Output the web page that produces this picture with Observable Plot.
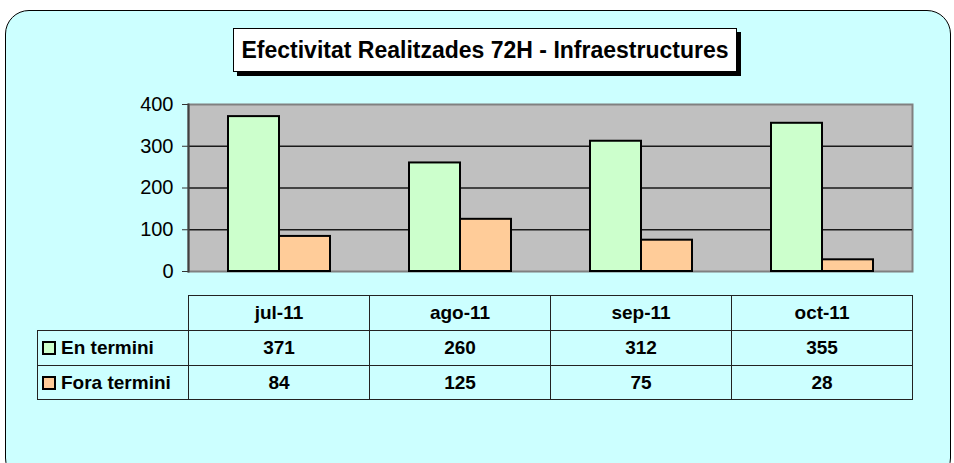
<!DOCTYPE html>
<html><head><meta charset="utf-8">
<script src="https://cdn.jsdelivr.net/npm/d3@7"></script>
<script src="https://cdn.jsdelivr.net/npm/@observablehq/plot@0.6"></script>
<style>
body{margin:0;background:#fff;font-family:Arial,"Liberation Sans",sans-serif;}
#wrap{position:relative;width:954px;height:463px;overflow:hidden;}
#panel{position:absolute;left:5px;top:10px;width:944px;height:470px;border:1.5px solid #000;border-radius:24px;background:#ccffff;}
#title{position:absolute;left:233px;top:28px;width:502px;height:42px;border:1px solid #000;background:#fff;box-shadow:4px 4px 0 #000;font-weight:bold;font-size:23px;display:flex;align-items:center;justify-content:center;white-space:nowrap;}
#chart{position:absolute;left:0;top:0;}
.cell{position:absolute;box-sizing:border-box;font-weight:bold;font-size:19px;display:flex;align-items:center;justify-content:center;color:#000;}
.b{border:1px solid #222;}
.leg{justify-content:flex-start;padding-left:4px;}
.key{display:inline-block;width:10px;height:10px;border:2px solid #000;margin-right:5px;}
</style></head>
<body><div id="wrap"><div id="panel"></div><div id="chart"></div><div id="title"></div></div>
<script>
const titleText = "Efectivitat Realitzades 72H - Infraestructures";
const months = ["jul-11","ago-11","sep-11","oct-11"];
const series = ["En termini","Fora termini"];
const enTermini = [371,260,312,355];
const foraTermini = [84,125,75,28];
const yTicks = [0,100,200,300,400];
const colors = ["#ccffcc","#ffcc99"];

const values = [enTermini, foraTermini];
const data = [];
series.forEach((s,i)=>months.forEach((m,j)=>data.push({series:s, month:m, value:values[i][j]})));

document.getElementById("title").textContent = titleText;

const chart = Plot.plot({
  width:954, height:463,
  marginLeft:188, marginRight:42, marginTop:104, marginBottom:192,
  x:{domain:months, padding:0, axis:null},
  y:{domain:[0,400], axis:null},
  style:{background:"transparent", fontFamily:'Arial,"Liberation Sans",sans-serif', fontSize:"20px", color:"#000"},
  marks:[
    Plot.frame({fill:"#c0c0c0", stroke:"#808080", strokeWidth:2}),
    Plot.gridY(yTicks.filter(t=>t>0 && t<400), {stroke:"#1a1a1a", strokeOpacity:1, strokeWidth:1.3}),
    Plot.barY(data.filter(d=>d.series===series[0]), {x:"month", y:"value", fill:colors[0], stroke:"#000", strokeWidth:2, insetLeft:40, insetRight:90}),
    Plot.barY(data.filter(d=>d.series===series[1]), {x:"month", y:"value", fill:colors[1], stroke:"#000", strokeWidth:2, insetLeft:91, insetRight:39}),
    Plot.axisY({ticks:yTicks, tickSize:6, tickPadding:9, fontSize:20, stroke:"#333", fill:"#000", label:null}),
    Plot.frame({anchor:"left", stroke:"#404040", strokeWidth:2})
  ]
});
document.getElementById("chart").appendChild(chart);

// Data table below the chart, aligned with the x scale
const xs = chart.scale("x");
const bw = xs.bandwidth;
const wrap = document.getElementById("wrap");
const rowTops = [295, 330, 365];
const rowH = [35, 35, 34];
function cell(x, y, w, h, html, cls){
  const d = document.createElement("div");
  d.className = "cell " + cls;
  d.style.left = x+"px"; d.style.top = y+"px"; d.style.width = (w+1)+"px"; d.style.height = (h+1)+"px";
  d.innerHTML = html;
  wrap.appendChild(d);
}
months.forEach((m,j)=>{
  const x0 = xs.apply(m);
  cell(x0, rowTops[0], bw, rowH[0], m, "b");
  values.forEach((v,i)=>cell(x0, rowTops[i+1], bw, rowH[i+1], String(v[j]), "b"));
});
const legX = 37, legW = xs.apply(months[0]) - legX;
series.forEach((s,i)=>cell(legX, rowTops[i+1], legW, rowH[i+1], `<span class="key" style="background:${colors[i]}"></span>${s}`, "b leg"));
</script></body></html>
